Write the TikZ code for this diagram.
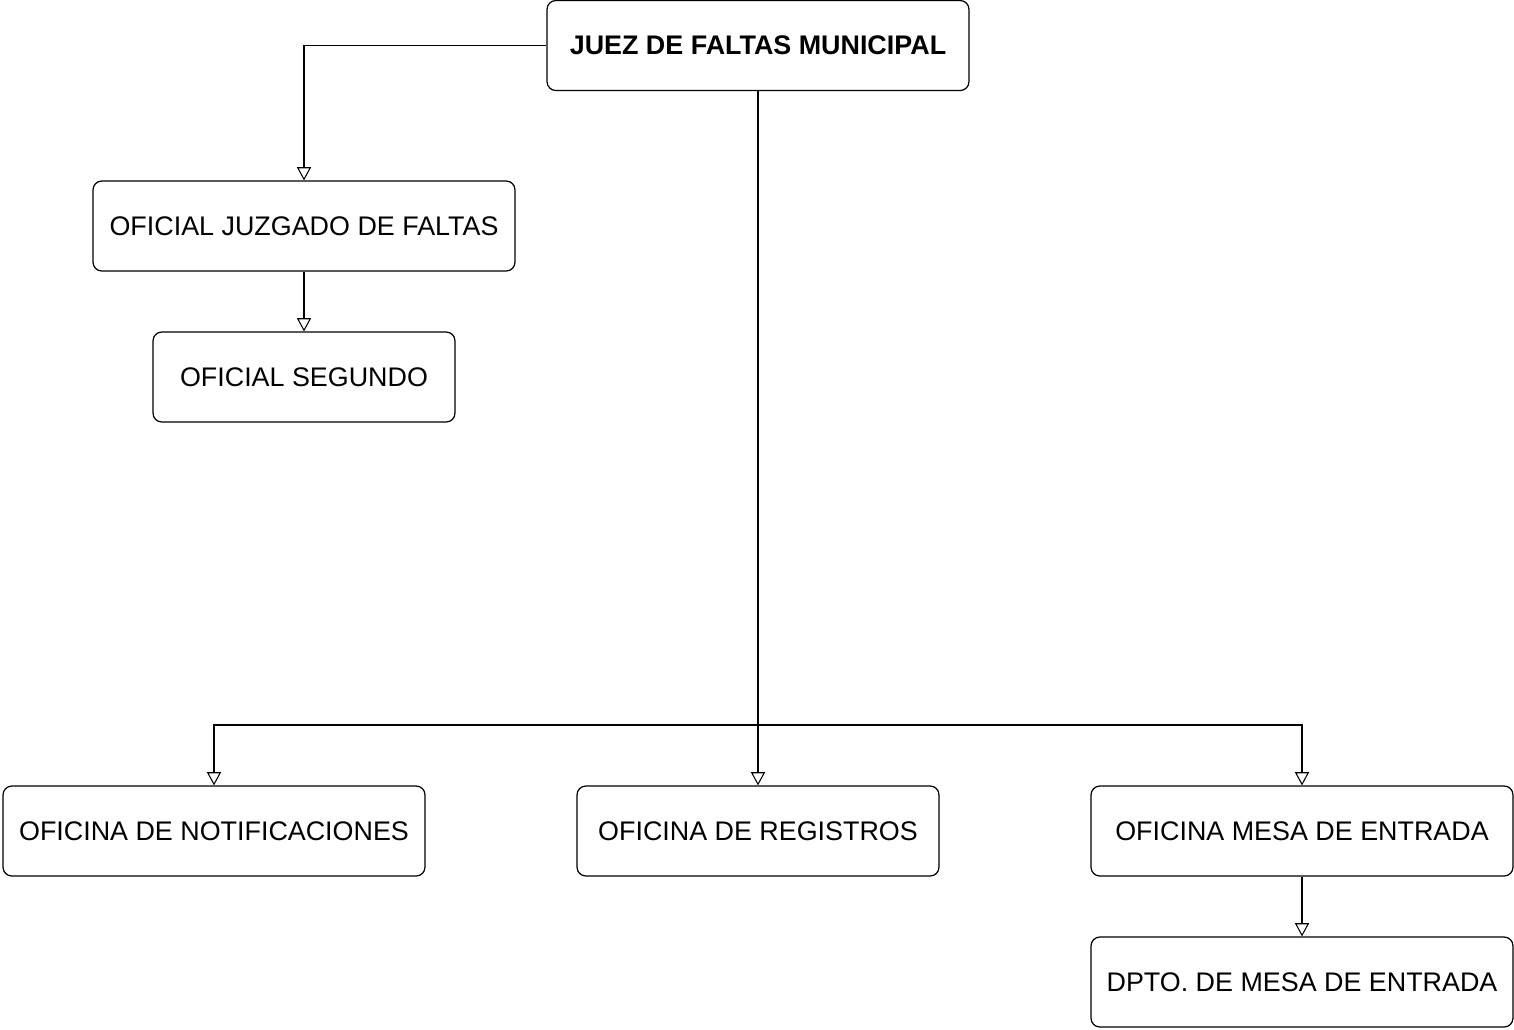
\documentclass[tikz,border=0pt]{standalone}
\usepackage{fontspec}
\setmainfont{Liberation Sans}
\usetikzlibrary{positioning,arrows.meta}
\tikzstyle{cargo} = [rectangle, rounded corners=5pt, minimum width=8.44cm, minimum height=1.8cm, text centered, draw=black, line width=0.7pt, font=\fontsize{15.3}{17}\selectfont]
\tikzstyle{flecha} = [line width=0.6pt, -{Triangle[open, length=7.5pt, width=8pt]}]

\begin{document}
\begin{tikzpicture}[x=0.02cm, y=-0.02cm]
        \useasboundingbox (0,0) rectangle (1514,1029);

        \node (juez) [cargo, font=\fontsize{15.3}{17}\selectfont\bfseries] at (758,45.5) {JUEZ DE FALTAS MUNICIPAL};
        \node (ofjuz) [cargo] at (304,226) {OFICIAL JUZGADO DE FALTAS};
        \node (ofseg) [cargo, minimum width=6.04cm] at (304,377) {OFICIAL SEGUNDO};

        \node (notif) [cargo] at (214,831) {OFICINA DE NOTIFICACIONES};
        \node (regis) [cargo, minimum width=7.24cm] at (758,831) {OFICINA DE REGISTROS};
        \node (mesa) [cargo] at (1302,831) {OFICINA MESA DE ENTRADA};
        \node (dpto) [cargo] at (1302,982) {DPTO. DE MESA DE ENTRADA};

        \draw [flecha] (juez.west) -| (ofjuz.north);
        \draw [flecha] (ofjuz) -- (ofseg);

        \draw [flecha] (juez) -- (regis);
        \coordinate (rama) at (758,725);
        \draw [flecha] (rama) -| (notif.north);
        \draw [flecha] (rama) -| (mesa.north);
        \draw [flecha] (mesa) -- (dpto);

\end{tikzpicture}
\end{document}
